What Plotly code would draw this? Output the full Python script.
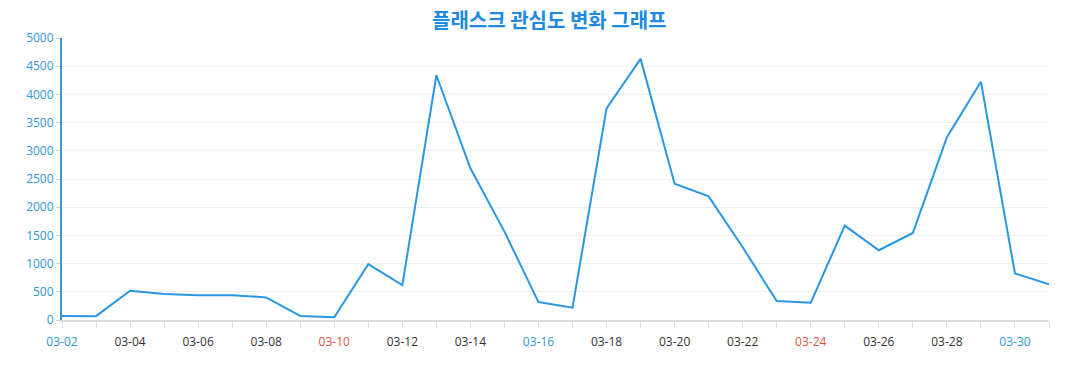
import plotly.graph_objects as go

dates = ["03-02", "03-03", "03-04", "03-05", "03-06", "03-07", "03-08", "03-09", "03-10",
         "03-11", "03-12", "03-13", "03-14", "03-15", "03-16", "03-17", "03-18", "03-19",
         "03-20", "03-21", "03-22", "03-23", "03-24", "03-25", "03-26", "03-27", "03-28",
         "03-29", "03-30", "03-31"]
values = [71, 68, 518, 459, 441, 441, 400, 71, 50,
          990, 618, 4340, 2690, 1567, 318, 219, 3753, 4630,
          2415, 2191, 1290, 336, 307, 1673, 1237, 1544, 3240,
          4223, 825, 631]
saturday = ["03-02", "03-16", "03-30"]
sunday = ["03-10", "03-24"]
y_ticks = [0, 500, 1000, 1500, 2000, 2500, 3000, 3500, 4000, 4500, 5000]

LINE = "#2a97e3"
BLUE_TXT = "#2f97d4"

idx = list(range(len(dates)))
ticktext = []
for i, d in enumerate(dates):
    if i % 2 == 1:
        ticktext.append("")
    elif d in saturday:
        ticktext.append(f'<span style="color:{BLUE_TXT}">{d}</span>')
    elif d in sunday:
        ticktext.append(f'<span style="color:#e2533b">{d}</span>')
    else:
        ticktext.append(d)

fig = go.Figure()
fig.add_trace(go.Scatter(x=idx, y=values, mode="lines",
                         line=dict(color=LINE, width=2), hoverinfo="y"))

fig.update_layout(
    width=1077, height=390,
    margin=dict(l=62, r=28, t=38, b=70),
    paper_bgcolor="white", plot_bgcolor="white",
    showlegend=False,
    title=dict(text="<b>플래스크 관심도 변화 그래프</b>", x=0.51, xanchor="center",
               y=0.945, yanchor="middle",
               font=dict(family="Noto Sans CJK KR", size=20, color="#1e88e5")),
    font=dict(family="Open Sans", size=12, color="#333"),
)
fig.update_xaxes(
    range=[0, len(dates) - 1], tickmode="array", tickvals=idx, ticktext=ticktext,
    showgrid=False, zeroline=False, showline=True, linecolor="#dcdcdc", linewidth=2,
    ticks="outside", ticklen=6, tickcolor="#dcdcdc", tickwidth=1,
    ticklabelstandoff=4,
    tickfont=dict(family="Open Sans", size=12, color="#333"), tickangle=0,
)
fig.update_yaxes(
    range=[0, 5000], tickmode="array", tickvals=y_ticks,
    showgrid=True, gridcolor="#f0f0f0", gridwidth=1, zeroline=False,
    showline=True, linecolor="#3a95d8", linewidth=2,
    ticks="outside", ticklen=4, tickcolor="#cfcfcf",
    tickfont=dict(family="Open Sans", size=12, color=BLUE_TXT),
)

fig.write_html("out.html", config={"displayModeBar": False},
               post_script="document.body.style.margin='0';")
